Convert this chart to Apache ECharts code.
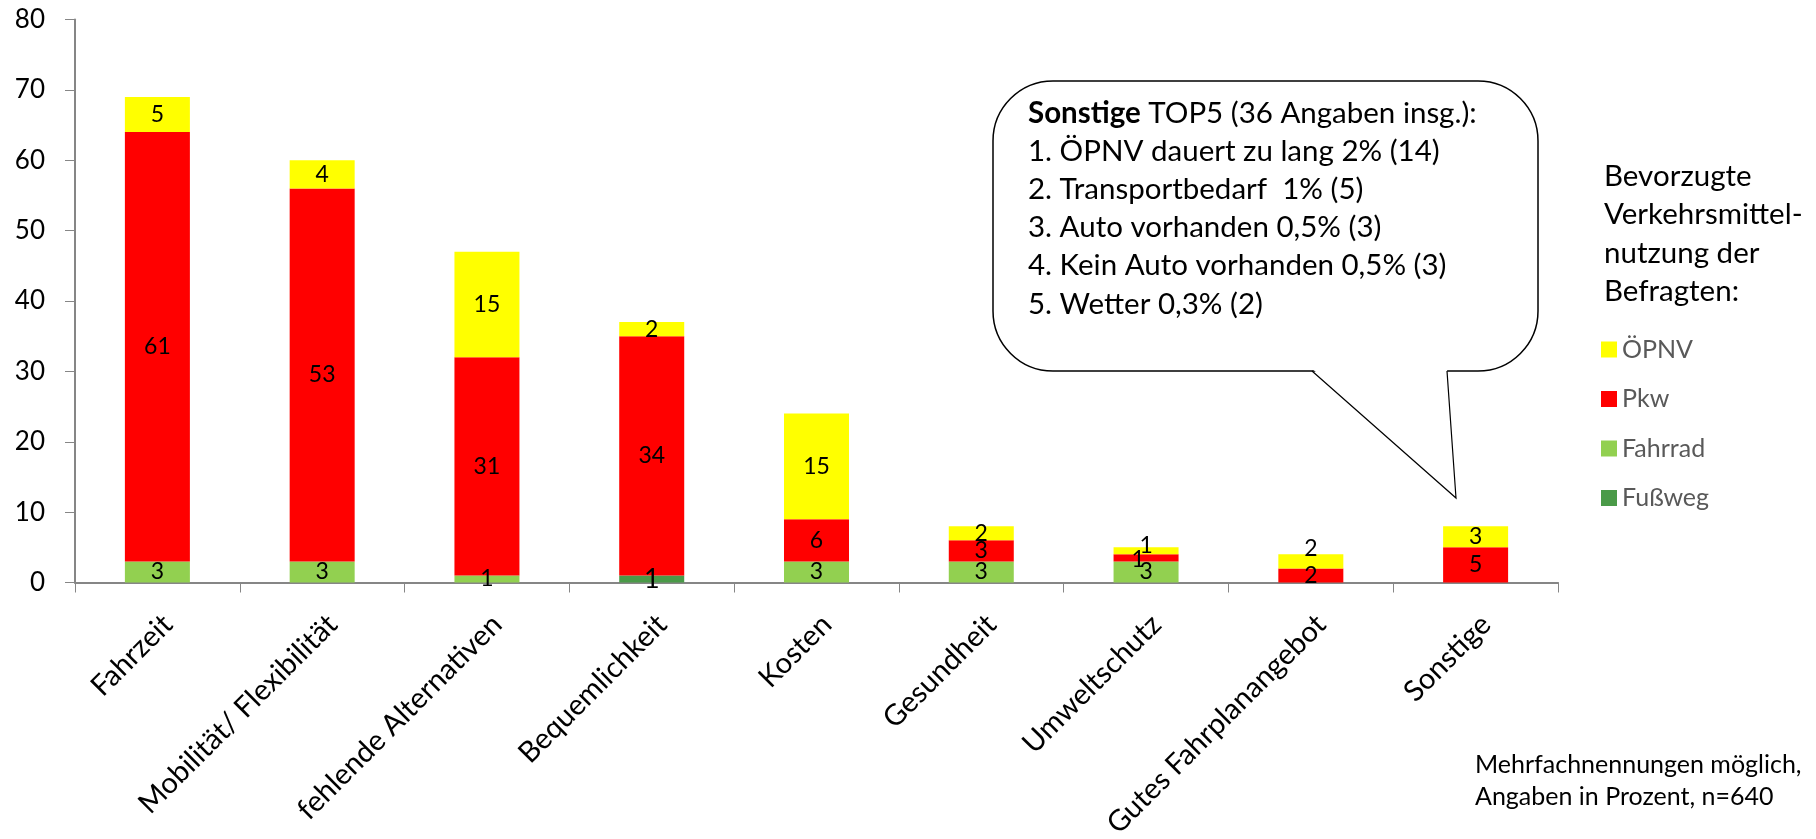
<!DOCTYPE html>
<html>
<head>
<meta charset="utf-8">
<script src="https://cdn.jsdelivr.net/npm/echarts@6/dist/echarts.min.js"></script>
<style>
  html, body { margin: 0; padding: 0; background: #fff; }
  #chart { width: 1816px; height: 839px; }
</style>
</head>
<body>
<div id="chart"></div>
<script>
// Kategorien (x-Achse)
var categories = ["Fahrzeit", "Mobilität/ Flexibilität", "fehlende Alternativen", "Bequemlichkeit",
  "Kosten", "Gesundheit", "Umweltschutz", "Gutes Fahrplanangebot", "Sonstige"];
// Werte in Prozent, je Verkehrsmittel
var fussweg = [0, 0, 0, 1, 0, 0, 0, 0, 0];
var fahrrad = [3, 3, 1, 0, 3, 3, 3, 0, 0];
var pkw     = [61, 53, 31, 34, 6, 3, 1, 2, 5];
var oepnv   = [5, 4, 15, 2, 15, 2, 1, 2, 3];
var yTicks = [0, 10, 20, 30, 40, 50, 60, 70, 80];

var calloutLines = [
  "1. ÖPNV dauert zu lang 2% (14)",
  "2. Transportbedarf  1% (5)",
  "3. Auto vorhanden 0,5% (3)",
  "4. Kein Auto vorhanden 0,5% (3)",
  "5. Wetter 0,3% (2)"
];

var FONT = "Lato";
var chart = echarts.init(document.getElementById("chart"));

// kleine Verschiebungen der Beschriftungen wie im Original (Serie -> Kategorie -> [dx, dy])
var nudge = {
  "Pkw": { 6: [-8, 2] },
  "ÖPNV": { 6: [0, -5], 7: [0, -13] }
};

function makeSeries(name, values, color, fontSize) {
  return {
    name: name,
    type: "bar",
    stack: "sum",
    barWidth: 65,
    itemStyle: { color: color },
    label: {
      show: true,
      position: "inside",
      color: "#000",
      fontFamily: FONT,
      fontSize: fontSize || 23,
      formatter: function (p) { return p.value ? p.value : ""; }
    },
    data: values.map(function (v, i) {
      var d = { value: v };
      if (nudge[name] && nudge[name][i]) d.label = { offset: nudge[name][i] };
      return d;
    })
  };
}

chart.setOption({
  animation: false,
  grid: { left: 75, right: 258, top: 19.5, bottom: 256.5, outerBoundsMode: "none" },
  legend: {
    orient: "vertical",
    left: 1596,
    top: 332,
    icon: "rect",
    itemWidth: 16,
    itemHeight: 16,
    itemGap: 24.5,
    padding: 5,
    data: ["ÖPNV", "Pkw", "Fahrrad", "Fußweg"],
    textStyle: { color: "#595959", fontFamily: FONT, fontSize: 25 }
  },
  xAxis: {
    type: "category",
    data: categories,
    axisLine: { lineStyle: { color: "#868686", width: 2 } },
    axisTick: { show: true, length: 10, lineStyle: { color: "#868686" } },
    axisLabel: {
      interval: 0,
      rotate: 45,
      margin: 27,
      verticalAlign: "top",
      color: "#000",
      fontFamily: FONT,
      fontSize: 29
    }
  },
  yAxis: {
    type: "value",
    min: yTicks[0],
    max: yTicks[yTicks.length - 1],
    interval: 10,
    axisLine: { show: true, lineStyle: { color: "#868686", width: 2 } },
    axisTick: { show: true, length: 10, lineStyle: { color: "#868686" } },
    splitLine: { show: false },
    axisLabel: { margin: 30, color: "#000", fontFamily: FONT, fontSize: 26 }
  },
  series: [
    makeSeries("Fußweg", fussweg, "#4a9a48", 27),
    makeSeries("Fahrrad", fahrrad, "#92d050"),
    makeSeries("Pkw", pkw, "#ff0000"),
    makeSeries("ÖPNV", oepnv, "#ffff00")
  ],
  graphic: [
    // Sprechblase
    {
      type: "rect",
      shape: { x: 993, y: 81, width: 545, height: 290, r: 60 },
      style: { fill: "#fff", stroke: "#000", lineWidth: 1.5 },
      z: 10
    },
    {
      type: "polygon",
      shape: { points: [[1313, 369.5], [1456, 498], [1447, 369.5]] },
      style: { fill: "#fff" },
      z: 11
    },
    {
      type: "polyline",
      shape: { points: [[1312, 371], [1456, 498], [1447, 371]] },
      style: { fill: null, stroke: "#000", lineWidth: 1.2 },
      z: 12
    },
    {
      type: "text",
      left: 1028,
      top: 94,
      z: 13,
      style: {
        text: "{b|Sonstige} TOP5 (36 Angaben insg.):\n" + calloutLines.join("\n"),
        fontFamily: FONT,
        fontSize: 29.5,
        lineHeight: 38.2,
        fill: "#000",
        rich: {
          b: { fontWeight: "bold", fontFamily: FONT, fontSize: 29.5, lineHeight: 38.2 }
        }
      }
    },
    // Legendentitel
    {
      type: "text",
      left: 1604,
      top: 157.5,
      style: {
        text: "Bevorzugte\nVerkehrsmittel-\nnutzung der\nBefragten:",
        fontFamily: FONT,
        fontSize: 29.5,
        lineHeight: 38.3,
        fill: "#000"
      }
    },
    // Fußnote
    {
      type: "text",
      left: 1475,
      top: 749,
      style: {
        text: "Mehrfachnennungen möglich,\nAngaben in Prozent, n=640",
        fontFamily: FONT,
        fontSize: 25,
        lineHeight: 32,
        fill: "#000"
      }
    }
  ]
});
</script>
</body>
</html>
